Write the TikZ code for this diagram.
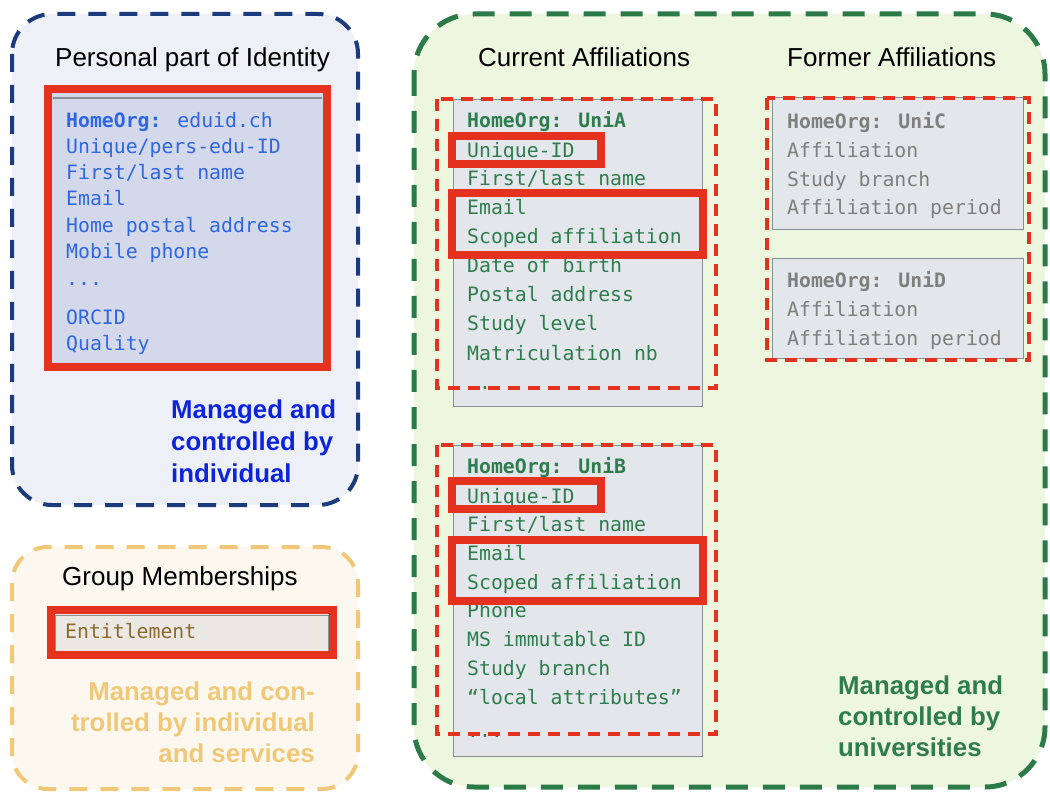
\documentclass[tikz,border=0pt]{standalone}
\usepackage{fontspec}
\setmainfont{Liberation Sans}
\newfontfamily\monof{DejaVu Sans Mono}
\definecolor{navy}{HTML}{1C3B7C}
\definecolor{bluefill}{HTML}{EEF0F8}
\definecolor{bluetxt}{HTML}{2F66E2}
\definecolor{bluebold}{HTML}{0C24DC}
\definecolor{redc}{HTML}{E5321E}
\definecolor{bgray}{HTML}{D3D9EA}
\definecolor{orng}{HTML}{F0C878}
\definecolor{orfill}{HTML}{FCF8EF}
\definecolor{enttxt}{HTML}{8B6A2E}
\definecolor{entfill}{HTML}{EBE8E3}
\definecolor{grfill}{HTML}{EDF6DF}
\definecolor{grdash}{HTML}{2B7A48}
\definecolor{grtxt}{HTML}{2F7D4F}
\definecolor{gbox}{HTML}{E3E6EA}
\definecolor{gboxline}{HTML}{8A8F96}
\definecolor{graytxt}{HTML}{7F7F7F}
\begin{document}
\begin{tikzpicture}[x=1pt,y=-1pt,
  mono/.style={anchor=base west,inner sep=0pt,font=\monof\fontsize{19.8}{24}\selectfont},
  title/.style={anchor=base west,inner sep=0pt,font=\fontsize{26}{30}\selectfont,text=black},
  boldnote/.style={anchor=base west,inner sep=0pt,font=\bfseries\fontsize{25.8}{30}\selectfont},
  redbox/.style={draw=redc,line width=8pt},
  reddash/.style={draw=redc,line width=3.5pt,dash pattern=on 12pt off 8pt},
  graybox/.style={fill=gbox,draw=gboxline,line width=1pt}]
\useasboundingbox (0,0) rectangle (1050,794);
\fill[white] (0,0) rectangle (1050,794);

% ---------- Personal part ----------
\draw[navy,fill=bluefill,line width=4pt,dash pattern=on 18pt off 13pt,rounded corners=40pt] (12,14) rectangle (358,505);
\node[title] (ptitle) at (55,67) {Personal part of Identity};
\fill[bgray] (50,91) rectangle (325,365);
\draw[gboxline,line width=1.2pt] (53,98) -- (322,98);
\draw[redbox] (48,89) rectangle (327,367);
\begin{scope}[every node/.style={mono,text=bluetxt}]
\node (p1) at (66,128) {\textbf{HomeOrg:} eduid.ch};
\node (p2) at (66,154) {Unique/pers-edu-ID};
\node (p3) at (66,180) {First/last name};
\node (p4) at (66,206) {Email};
\node (p5) at (66,233) {Home postal address};
\node (p6) at (66,259) {Mobile phone};
\node (p7) at (66,286) {...};
\node (p8) at (66,325) {ORCID};
\node (p9) at (66,351) {Quality};
\end{scope}
\begin{scope}[every node/.style={boldnote,text=bluebold}]
\node (pm1) at (171,418) {Managed and};
\node (pm2) at (171,450) {controlled by};
\node (pm3) at (171,482) {individual};
\end{scope}

% ---------- Group memberships ----------
\draw[orng,fill=orfill,line width=4pt,dash pattern=on 18pt off 13pt,rounded corners=36pt] (12,547) rectangle (358,789);
\node[title] (gtitle) at (62,585) {Group Memberships};
\fill[entfill] (53,613) rectangle (330,652);
\draw[gboxline,line width=0.8pt] (55,615) rectangle (328,651);
\draw[redbox] (51,610) rectangle (333,655);
\node[mono,text=enttxt] (ent) at (65,638) {Entitlement};
\begin{scope}[every node/.style={boldnote,text=orng,anchor=base east}]
\node (gm1) at (315,700) {Managed and con-};
\node (gm2) at (315,731) {trolled by individual};
\node (gm3) at (315,762) {and services};
\end{scope}

% ---------- Affiliations ----------
\draw[grdash,fill=grfill,line width=5pt,dash pattern=on 22pt off 15pt,rounded corners=60pt] (414,14) rectangle (1045,787);
\node[title] (ctitle) at (478,67) {Current Affiliations};
\node[title] (ftitle) at (787,67) {Former Affiliations};

% UniA
\draw[graybox] (453,100) rectangle (702,406);
\begin{scope}[every node/.style={mono,text=grtxt}]
\node (a1) at (467,128) {\textbf{HomeOrg: UniA}};
\node (a2) at (467,158) {Unique-ID};
\node (a3) at (467,186) {First/last name};
\node (a4) at (467,215) {Email};
\node (a5) at (467,244) {Scoped affiliation};
\node (a6) at (467,273) {Date of birth};
\node (a7) at (467,302) {Postal address};
\node (a8) at (467,331) {Study level};
\node (a9) at (467,360) {Matriculation nb};
\node (a10) at (467,389) {...};
\end{scope}
\draw[redbox] (452,136) rectangle (601,164);
\draw[redbox] (452,193) rectangle (703,255);
\draw[reddash] (437,99) rectangle (716,388);

% UniB
\draw[graybox] (453,445) rectangle (702,756);
\begin{scope}[every node/.style={mono,text=grtxt}]
\node (b1) at (467,473) {\textbf{HomeOrg: UniB}};
\node (b2) at (467,503) {Unique-ID};
\node (b3) at (467,531) {First/last name};
\node (b4) at (467,560) {Email};
\node (b5) at (467,589) {Scoped affiliation};
\node (b6) at (467,617) {Phone};
\node (b7) at (467,646) {MS immutable ID};
\node (b8) at (467,675) {Study branch};
\node (b9) at (467,704) {“local attributes”};
\node (b10) at (467,737) {...};
\end{scope}
\draw[redbox] (452,481) rectangle (601,509);
\draw[redbox] (452,540) rectangle (703,601);
\draw[reddash] (437,445) rectangle (716,734);

% UniC / UniD
\draw[graybox] (772,98) rectangle (1023,230);
\draw[graybox] (772,259) rectangle (1023,359);
\begin{scope}[every node/.style={mono,text=graytxt}]
\node (c1) at (787,129) {\textbf{HomeOrg: UniC}};
\node (c2) at (787,158) {Affiliation};
\node (c3) at (787,187) {Study branch};
\node (c4) at (787,215) {Affiliation period};
\node (d1) at (787,288) {\textbf{HomeOrg: UniD}};
\node (d2) at (787,317) {Affiliation};
\node (d3) at (787,345) {Affiliation period};
\end{scope}
\draw[reddash] (767,98) rectangle (1029,360);

\begin{scope}[every node/.style={boldnote,text=grtxt}]
\node (um1) at (838,694) {Managed and};
\node (um2) at (838,725) {controlled by};
\node (um3) at (838,756) {universities};
\end{scope}
\end{tikzpicture}
\end{document}
